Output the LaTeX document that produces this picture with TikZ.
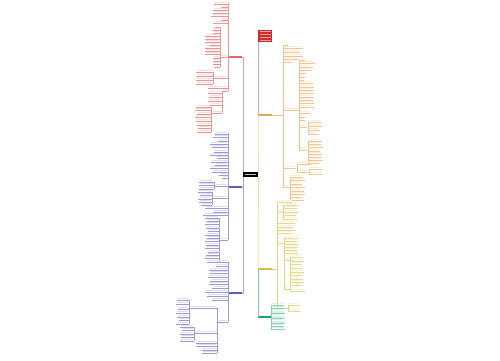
\documentclass[tikz,border=0pt]{standalone}
\usetikzlibrary{positioning}
\definecolor{mmred}{RGB}{205,45,45}
\definecolor{mmorange}{RGB}{225,140,35}
\definecolor{mmblue}{RGB}{55,55,165}
\definecolor{mmyellow}{RGB}{205,180,30}
\definecolor{mmgreen}{RGB}{25,165,105}
\tikzset{
  trunk/.style={line width=0.5pt},
  bus/.style={line width=0.3pt},
  branch/.style={inner sep=0pt, minimum height=2.5pt, minimum width=14pt, anchor=west},
}
% one leaf: colour, x from, x to, y
\newcommand\leaf[4]{%
  \fill[#1!17] (#2+0.8,#4-2.1) rectangle (#3-0.8,#4-0.7);
  \draw[#1!50, line width=0.25pt] (#2,#4) -- (#3,#4);}

\begin{document}
\begin{tikzpicture}[x=1pt,y=-1pt]
  \fill[white] (0,0) rectangle (500,360);
  \useasboundingbox (0,0) rectangle (500,360);

  % main nodes
  \node [branch, fill=black, minimum width=15pt, minimum height=4.5pt] (root) at (243,174.5) {};
  \draw [white!75!black, line width=0.8pt] (245,174.5) -- (256,174.5);
  \node [branch, fill=mmred!70] (red) at (228,57) {};
  \node [branch, fill=mmred, minimum height=12pt] (note) at (258,36) {};
  \foreach \y in {32,35,38,41} \fill [white, opacity=0.55] (259.5,\y-0.9) rectangle (270.5,\y+0.3);
  \node [branch, fill=mmorange!80] (orange) at (258,115) {};
  \node [branch, fill=mmblue!80] (blueA) at (228,187) {};
  \node [branch, fill=mmblue!80] (blueB) at (228,293) {};
  \node [branch, fill=mmyellow!85] (yellow) at (258,269) {};
  \node [branch, fill=mmgreen, minimum width=13pt] (green) at (258,317) {};

  % trunks
  \draw [trunk, mmred!45] (root.north west) |- (red.east);
  \draw [trunk, mmblue!45] (root.south west) |- (blueA.east);
  \draw [trunk, mmblue!45] (root.south west) |- (blueB.east);
  \draw [trunk, mmorange!50] (root.north east) -- (orange.west);
  \draw [trunk, mmred!45] (orange.west) -- (note.south west);
  \draw [trunk, mmyellow!60] (root.south east) -- (yellow.west);
  \draw [trunk, mmgreen!55] (yellow.west) -- (green.west);

  % red branch
  \draw [bus, mmred!50] (228,3) -- (228,91);
  \foreach \y/\a in {4/214, 7/221, 10/213, 13/213, 16/211, 20/221, 23/213, 57/220, 78/213, 88/208, 91/222}
    \leaf{mmred}{\a}{228}{\y};
  \draw [bus, mmred!50] (220,27) -- (220,67);
  \foreach \y/\a in {27/215, 30/212, 33/213, 36/205, 39/205, 42/205, 45/210, 48/205, 51/205, 54/205, 58/213, 61/213, 64/213, 67/214}
    \leaf{mmred}{\a}{220}{\y};
  \draw [bus, mmred!50] (213,72) -- (213,84);
  \foreach \y in {72,76,80,84} \leaf{mmred}{196}{213}{\y};
  \draw [bus, mmred!50] (222,91) -- (222,113);
  \foreach \y/\a in {93/208, 97/209, 101/208, 105/210, 113/211} \leaf{mmred}{\a}{222}{\y};
  \draw [bus, mmred!50] (211,107) -- (211,132);
  \foreach \y/\a in {107/196, 110/195, 114/197, 117/195, 121/196, 125/197, 128/198, 132/197}
    \leaf{mmred}{\a}{211}{\y};

  % orange branch
  \draw [bus, mmorange!55] (orange.east) -- (283,115);
  \draw [bus, mmorange!55] (283,45) -- (283,187);
  \foreach \y/\b in {45/288, 48/303, 52/300, 56/303, 59/298, 62/291, 110/297, 168/296, 187/290}
    \leaf{mmorange}{283}{\b}{\y};
  \draw [bus, mmorange!55] (297,110) -- (299,110) (299,60) -- (299,150);
  \foreach \y/\b in {60/305, 63/315, 67/313, 70/312, 73/306, 77/305, 80/304, 83/313, 87/314, 90/314,
                     93/313, 97/314, 100/314, 103/314, 107/314, 113/310, 117/305, 120/305, 127/307, 150/307}
    \leaf{mmorange}{299}{\b}{\y};
  \draw [bus, mmorange!55] (308,122) -- (308,134);
  \foreach \y/\b in {122/321, 126/322, 130/320, 134/318} \leaf{mmorange}{308}{\b}{\y};
  \draw [bus, mmorange!55] (308,141) -- (308,163);
  \foreach \y/\b in {141/322, 144/321, 147/323, 151/320, 154/322, 157/321, 160/323, 163/319}
    \leaf{mmorange}{308}{\b}{\y};
  \draw [bus, mmorange!55] (297,164) -- (297,172);
  \foreach \y/\b in {164/311, 172/308} \leaf{mmorange}{297}{\b}{\y};
  \draw [bus, mmorange!55] (309,169) -- (309,174);
  \foreach \y in {169,174} \leaf{mmorange}{309}{322}{\y};
  \draw [bus, mmorange!55] (290,177) -- (290,200);
  \foreach \y/\b in {177/303, 180/305, 184/302, 187/305, 191/304, 194/305, 197/301, 200/304}
    \leaf{mmorange}{290}{\b}{\y};

  % yellow branch
  \draw [bus, mmyellow!60] (yellow.east) -- (277,269);
  \draw [bus, mmyellow!60] (277,202) -- (277,308);
  \foreach \y/\b in {202/293, 212/283, 223/295, 227/293, 230/296, 233/292, 243/284, 308/288}
    \leaf{mmyellow}{277}{\b}{\y};
  \draw [bus, mmyellow!60] (283,205) -- (283,219);
  \foreach \y/\b in {205/298, 208/297, 212/298, 215/296, 219/297} \leaf{mmyellow}{283}{\b}{\y};
  \draw [bus, mmyellow!60] (284,238) -- (284,289);
  \foreach \y/\b in {238/298, 241/297, 244/299, 247/298, 250/297, 253/298, 260/290, 289/290}
    \leaf{mmyellow}{284}{\b}{\y};
  \draw [bus, mmyellow!60] (290,257) -- (290,291);
  \foreach \y/\b in {257/303, 261/304, 264/302, 268/303, 272/304, 275/302, 279/303, 282/304, 285/302, 291/305}
    \leaf{mmyellow}{290}{\b}{\y};
  \draw [bus, mmyellow!60] (288,305) -- (288,311);
  \foreach \y in {305,311} \leaf{mmyellow}{288}{300}{\y};

  % green branch
  \draw [bus, mmgreen!55] (green.east) -- (271,317) (271,305) -- (271,329);
  \foreach \y/\b in {305/284, 308/285, 311/283, 313.5/285, 316/284, 318.5/285, 321/283, 323.5/285, 326/284, 329/285}
    \leaf{mmgreen}{271}{\b}{\y};

  % blue branch, upper
  \draw [bus, mmblue!50] (228,133) -- (228,240);
  \foreach \y/\a in {134/215, 137/213, 141/218, 144/210, 147/212, 152/214, 155/210, 158/217, 162/211,
                     165/215, 168/210, 172/212, 175/219, 178/222, 186/215, 198/213, 208/205, 212/213, 215/203, 240/220}
    \leaf{mmblue}{\a}{228}{\y};
  \draw [bus, mmblue!50] (214,182) -- (214,189);
  \foreach \y in {182,185,189} \leaf{mmblue}{199}{214}{\y};
  \draw [bus, mmblue!50] (212,192) -- (212,205);
  \foreach \y/\a in {192/198, 195/200, 199/198, 202/199, 205/201} \leaf{mmblue}{\a}{212}{\y};
  \draw [bus, mmblue!50] (219,218) -- (219,262);
  \foreach \y/\a in {218/205, 221/207, 224/205, 228/206, 231/208, 235/205, 238/207, 241/205,
                     245/206, 248/205, 252/208, 255/206, 258/205, 262/207}
    \leaf{mmblue}{\a}{219}{\y};

  % blue branch, lower
  \draw [bus, mmblue!50] (228,262) -- (228,322);
  \foreach \y/\a in {262/215, 266/216, 270/209, 273/210, 277/208, 281/210, 284/209, 288/212,
                     292/205, 296/207, 300/212, 322/218}
    \leaf{mmblue}{\a}{228}{\y};
  \draw [bus, mmblue!50] (217,308) -- (217,353);
  \foreach \y/\a in {308/190, 333/195, 343/196, 346/196, 350/202, 353/202} \leaf{mmblue}{\a}{217}{\y};
  \draw [bus, mmblue!50] (189,300) -- (189,324);
  \foreach \y/\a in {300/177, 304/176, 309/178, 313/176, 317/177, 320/179, 324/176} \leaf{mmblue}{\a}{189}{\y};
  \draw [bus, mmblue!50] (194,327) -- (194,341);
  \foreach \y/\a in {327/180, 330/182, 334/180, 337/181, 341/180} \leaf{mmblue}{\a}{194}{\y};
\end{tikzpicture}
\end{document}
